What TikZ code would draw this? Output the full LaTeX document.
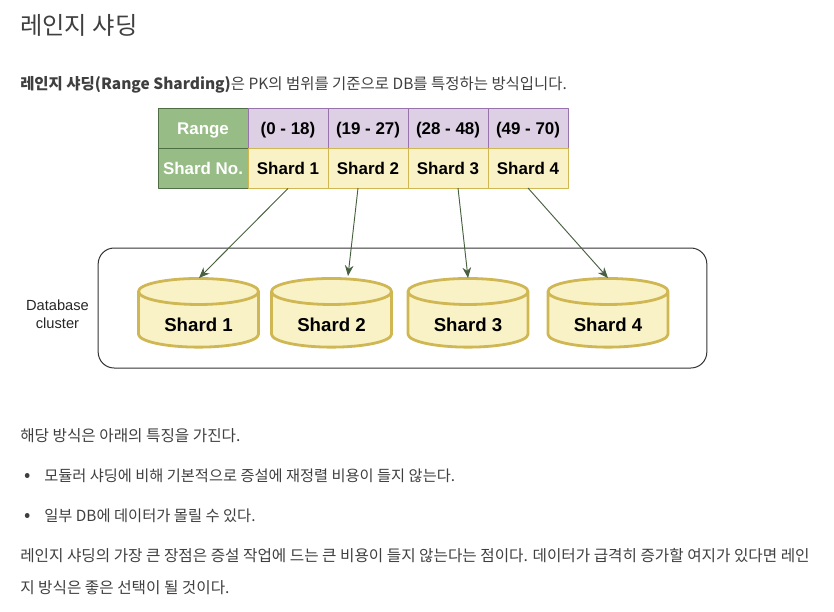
\documentclass[tikz,border=0pt]{standalone}
\usepackage{fontspec}
\setmainfont{Noto Sans CJK KR}
\newfontfamily\figfont{Liberation Sans}
\usetikzlibrary{shapes.geometric,arrows.meta}
\definecolor{bodyc}{HTML}{3F3F3F}
\definecolor{greenf}{HTML}{97BC85}
\definecolor{greend}{HTML}{4F6E43}
\definecolor{purplef}{HTML}{DED0E4}
\definecolor{purpled}{HTML}{9873AB}
\definecolor{yellowf}{HTML}{F9F2C7}
\definecolor{yellowd}{HTML}{CFB753}
\definecolor{arrowc}{HTML}{47603F}
\tikzset{
	cell/.style={draw,line width=.7pt,minimum width=60pt,minimum height=30pt,inner sep=0pt,text height=9.2pt,text depth=0pt,font=\figfont\bfseries\fontsize{12.7}{14}\selectfont,text=black},
	headcell/.style={cell,fill=greenf,draw=greend,minimum width=67.5pt,text=white},
	rangecell/.style={cell,fill=purplef,draw=purpled},
	shardcell/.style={cell,fill=yellowf,draw=yellowd},
	db/.style={cylinder,shape border rotate=90,aspect=.38,draw=yellowd,fill=yellowf,line width=2.1pt,minimum width=90pt,minimum height=51.5pt,inner sep=0pt,font=\figfont\bfseries\fontsize{14}{16}\selectfont},
	para/.style={anchor=base west,inner sep=0pt,text=bodyc,font=\fontsize{11.75}{14}\selectfont},
	link/.style={-{Stealth[length=8pt,width=6.5pt]},draw=arrowc,line width=.7pt}
}
\begin{document}
\begin{tikzpicture}[x=.75pt,y=-.75pt,line join=round]
	\useasboundingbox (0,0) rectangle (834,611);
	\node[para,font=\fontsize{18.2}{22}\selectfont] (title) at (20,34) {레인지 샤딩};
	\node[para,font=\fontsize{11.6}{14}\selectfont] (intro) at (20,89) {\textbf{레인지 샤딩(Range Sharding)}은 PK의 범위를 기준으로 DB를 특정하는 방식입니다.};
	% table
	\node[headcell] (hr) at (203,128) {Range};
	\node[headcell] (hs) at (203,168) {Shard No.};
	\foreach \i/\x/\g in {1/288/(0 - 18),2/368/(19 - 27),3/448/(28 - 48),4/528/(49 - 70)}{
		\node[rangecell] (r\i) at (\x,128) {\g};
		\node[shardcell] (s\i) at (\x,168) {Shard \i};
	}
	% cluster
	\node[draw=black!80,line width=.75pt,rounded corners=12pt,minimum width=456.5pt,minimum height=90pt,inner sep=0pt] (cluster) at (402.5,308) {};
	\node[inner sep=0pt,align=center,text=black!85,font=\figfont\fontsize{11}{13.5}\selectfont] (clabel) at (57.5,314) {Database\\cluster};
	\foreach \i/\x in {1/198.5,2/331.5,3/468,4/608}
		\node[db] (d\i) at (\x,320) {\raisebox{-17pt}{Shard \i}};
	\path
	(358,188) coordinate (a2)
	(458,188) coordinate (a3)
	(528,188) coordinate (a4)
	(199,278) coordinate (e1)
	(348,276) coordinate (e2)
	(468,278) coordinate (e3)
	(608,278) coordinate (e4)
	;
	\draw[link] (s1.south) -- (e1);
	\draw[link] (a2) -- (e2);
	\draw[link] (a3) -- (e3);
	\draw[link] (a4) -- (e4);
	% text below
	\node[para] (p1) at (20,441) {해당 방식은 아래의 특징을 가진다.};
	\node[para,font=\fontsize{14}{14}\selectfont] (b1) at (24,481.5) {•};
	\node[para,font=\fontsize{11.45}{14}\selectfont] (l1) at (44,481) {모듈러 샤딩에 비해 기본적으로 증설에 재정렬 비용이 들지 않는다.};
	\node[para,font=\fontsize{14}{14}\selectfont] (b2) at (24,521.5) {•};
	\node[para,font=\fontsize{11.5}{14}\selectfont] (l2) at (44,521) {일부 DB에 데이터가 몰릴 수 있다.};
	\node[para] (p2) at (20,561) {레인지 샤딩의 가장 큰 장점은 증설 작업에 드는 큰 비용이 들지 않는다는 점이다. 데이터가 급격히 증가할 여지가 있다면 레인};
	\node[para] (p3) at (20,593) {지 방식은 좋은 선택이 될 것이다.};
\end{tikzpicture}
\end{document}
